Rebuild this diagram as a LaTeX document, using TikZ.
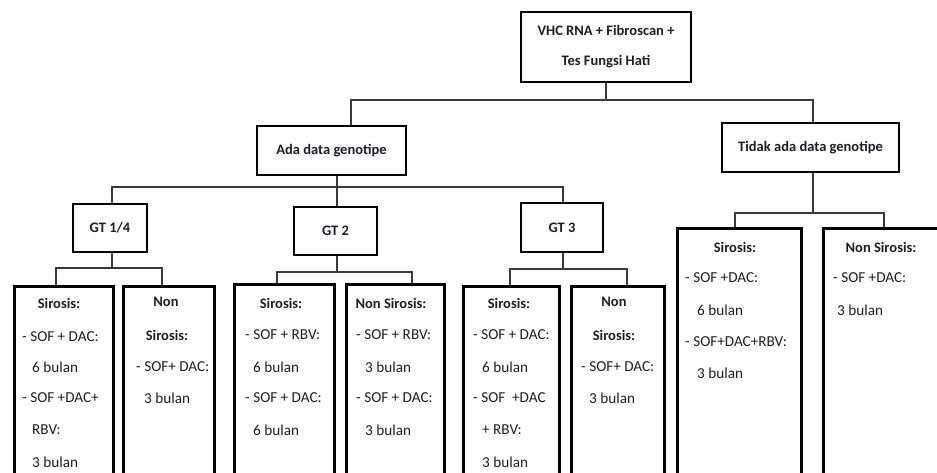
\documentclass[tikz,border=0pt]{standalone}
\usepackage{fontspec}
\setmainfont{Carlito}
\definecolor{txt}{HTML}{1E1E28}
\definecolor{linec}{HTML}{3A3A3A}
\begin{document}
\begin{tikzpicture}[x=1pt,y=-1pt,
  box/.style={draw=black,line width=2.6pt,inner sep=0pt,text=txt},
  leaf/.style={box,anchor=north west,minimum height=230pt},
  hd/.style={font=\fontsize{14.5}{17}\selectfont\bfseries,text=txt,inner sep=0pt},
  bd/.style={font=\fontsize{15.2}{19}\selectfont,text=txt,inner sep=0pt,anchor=west},
  ln/.style={draw=linec,line width=1.4pt}]
\useasboundingbox (0,0) rectangle (937,472);
\fill[white] (0,0) rectangle (937,472);
\clip (0,0) rectangle (937,472);

% upper boxes
\node[box,minimum width=170pt,minimum height=70pt,align=center,
      font=\fontsize{14.5}{30}\selectfont\bfseries] (top) at (606,47) {VHC RNA + Fibroscan +\\Tes Fungsi Hati};
\node[box,minimum width=149pt,minimum height=49pt,font=\fontsize{14.5}{17}\selectfont\bfseries] (ada) at (331.5,150.5) {Ada data genotipe};
\node[box,minimum width=177pt,minimum height=49pt,font=\fontsize{14.5}{17}\selectfont\bfseries] (tidak) at (810.5,147.5) {Tidak ada data genotipe};
\node[box,minimum width=74pt,minimum height=48pt,font=\fontsize{14.5}{17}\selectfont\bfseries] (gt14) at (110,228) {GT 1/4};
\node[box,minimum width=83pt,minimum height=48pt,font=\fontsize{14.5}{17}\selectfont\bfseries] (gt2) at (335.5,231) {GT 2};
\node[box,minimum width=82pt,minimum height=49pt,font=\fontsize{14.5}{17}\selectfont\bfseries] (gt3) at (562,227.5) {GT 3};

% leaf boxes
\node[leaf,minimum width=99pt] (a1) at (13,285) {};
\node[leaf,minimum width=91pt] (a2) at (122,285) {};
\node[leaf,minimum width=100pt] (b1) at (233,283) {};
\node[leaf,minimum width=98pt] (b2) at (345,283) {};
\node[leaf,minimum width=96pt] (c1) at (462,285) {};
\node[leaf,minimum width=93pt] (c2) at (570,285) {};
\node[leaf,minimum width=124pt,minimum height=260pt] (d1) at (676,227) {};
\node[leaf,minimum width=140pt,minimum height=260pt] (d2) at (822,227) {};

% connector junctions
\coordinate (j0) at (606,100);
\coordinate (jA) at (351,100);
\coordinate (jT) at (813,100);
\coordinate (jB) at (337,187);
\coordinate (k1) at (112,187);
\coordinate (k3) at (563,187);
\coordinate (m0) at (112,268);
\coordinate (m1) at (56,268);
\coordinate (m2) at (162,268);
\coordinate (n0) at (337,272);
\coordinate (n1) at (277,272);
\coordinate (n2) at (412,272);
\coordinate (p0) at (563,269);
\coordinate (p1) at (510,269);
\coordinate (p2) at (627,269);
\coordinate (q0) at (813,213);
\coordinate (q1) at (735,213);
\coordinate (q2) at (884,213);

\draw[ln] (top.south) -- (j0);
\draw[ln] (ada.north -| jA) -- (jA) -- (jT) -- (tidak.north -| jT);
\draw[ln] (ada.south -| jB) -- (jB);
\draw[ln] (gt14.north -| k1) -- (k1) -- (k3) -- (gt3.north -| k3);
\draw[ln] (jB) -- (gt2.north -| jB);
\draw[ln] (gt14.south -| m0) -- (m0);
\draw[ln] (a1.north -| m1) -- (m1) -- (m2) -- (a2.north -| m2);
\draw[ln] (gt2.south -| n0) -- (n0);
\draw[ln] (b1.north -| n1) -- (n1) -- (n2) -- (b2.north -| n2);
\draw[ln] (gt3.south -| p0) -- (p0);
\draw[ln] (c1.north -| p1) -- (p1) -- (p2) -- (c2.north -| p2);
\draw[ln] (tidak.south -| q0) -- (q0);
\draw[ln] (d1.north -| q1) -- (q1) -- (q2) -- (d2.north -| q2);

% texts GT 1/4
\node[hd] (a1h) at (59,303) {Sirosis:};
\node[bd] (a1t1) at (22,337) {- SOF + DAC:};
\node[bd] (a1t2) at (32,367) {6 bulan};
\node[bd] (a1t3) at (22,398) {- SOF +DAC+};
\node[bd] (a1t4) at (32,430) {RBV:};
\node[bd] (a1t5) at (32,462) {3 bulan};
\node[hd] (a2h1) at (166,302) {Non};
\node[hd] (a2h2) at (167,335) {Sirosis:};
\node[bd] (a2t1) at (136,367) {- SOF+ DAC:};
\node[bd] (a2t2) at (144,398) {3 bulan};

% texts GT 2
\node[hd] (b1h) at (281,303) {Sirosis:};
\node[bd] (b1t1) at (245,335) {- SOF + RBV:};
\node[bd] (b1t2) at (253,367) {6 bulan};
\node[bd] (b1t3) at (245,398) {- SOF + DAC:};
\node[bd] (b1t4) at (253,430) {6 bulan};
\node[hd] (b2h) at (391,303) {Non Sirosis:};
\node[bd] (b2t1) at (356,335) {- SOF + RBV:};
\node[bd] (b2t2) at (365,367) {3 bulan};
\node[bd] (b2t3) at (356,398) {- SOF + DAC:};
\node[bd] (b2t4) at (365,430) {3 bulan};

% texts GT 3
\node[hd] (c1h) at (509,303) {Sirosis:};
\node[bd] (c1t1) at (473,335) {- SOF + DAC:};
\node[bd] (c1t2) at (482,367) {6 bulan};
\node[bd] (c1t3) at (473,398) {- SOF\ \ +DAC};
\node[bd] (c1t4) at (482,430) {+ RBV:};
\node[bd] (c1t5) at (482,462) {3 bulan};
\node[hd] (c2h1) at (614,302) {Non};
\node[hd] (c2h2) at (614,335) {Sirosis:};
\node[bd] (c2t1) at (581,367) {- SOF+ DAC:};
\node[bd] (c2t2) at (589,398) {3 bulan};

% texts no genotype
\node[hd] (d1h) at (735,247) {Sirosis:};
\node[bd] (d1t1) at (685,278) {- SOF +DAC:};
\node[bd] (d1t2) at (697,310) {6 bulan};
\node[bd] (d1t3) at (685,342) {- SOF+DAC+RBV:};
\node[bd] (d1t4) at (697,373) {3 bulan};
\node[hd] (d2h) at (881,247) {Non Sirosis:};
\node[bd] (d2t1) at (833,278) {- SOF +DAC:};
\node[bd] (d2t2) at (837,310) {3 bulan};
\end{tikzpicture}
\end{document}
